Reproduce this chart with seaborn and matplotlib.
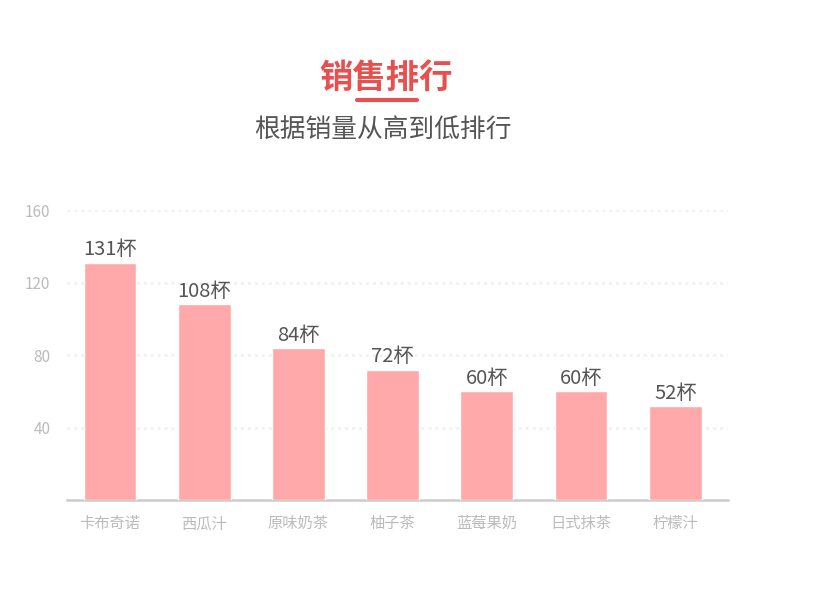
import pandas as pd
import seaborn as sns
import matplotlib.pyplot as plt
from matplotlib.lines import Line2D

drinks = ['卡布奇诺', '西瓜汁', '原味奶茶', '柚子茶', '蓝莓果奶', '日式抹茶', '柠檬汁']
cups = [131, 108, 84, 72, 60, 60, 52]
yticks = [40, 80, 120, 160]

df = pd.DataFrame({'drink': drinks, 'cups': cups})

sns.set_style('white')
plt.rcParams['font.family'] = ['Noto Sans CJK SC', 'DejaVu Sans']

fig = plt.figure(figsize=(8.17, 5.9), dpi=100)
ax = fig.add_axes([0.082, 0.1525, 0.809, 0.4915])

sns.barplot(data=df, x='drink', y='cups', color='#ffa9aa', width=0.56,
            saturation=1, ax=ax, zorder=3)

for i, v in enumerate(cups):
    ax.text(i, v + 1.2, f'{v}杯', ha='center', va='bottom', fontsize=14.5,
            color='#555555', fontweight='light')

ax.set_ylim(0, 160)
ax.set_xlim(-0.456, 6.56)
ax.set_yticks(yticks)
ax.set_xlabel('')
ax.set_ylabel('')
ax.grid(axis='y', linestyle=(0, (1, 1.5)), color='#f0f0f0', linewidth=2, zorder=0)
for s in ['top', 'right', 'left']:
    ax.spines[s].set_visible(False)
ax.spines['bottom'].set_color('#cccccc')
ax.spines['bottom'].set_linewidth(1.8)
ax.tick_params(axis='both', length=0, colors='#bbbbbb', labelsize=11)
ax.tick_params(axis='x', pad=11)
ax.tick_params(axis='y', pad=12)

fig.text(0.472, 0.868, '销售排行', ha='center', va='center', fontsize=24,
         fontweight='bold', color='#e8504f')
fig.add_artist(Line2D([357 / 817, 417 / 817], [1 - 100 / 590, 1 - 100 / 590],
                      color='#e8504f', linewidth=3, transform=fig.transFigure))
fig.text(0.469, 0.778, '根据销量从高到低排行', ha='center', va='center',
         fontsize=18.5, color='#555555')

fig.savefig('out.png', dpi=100)
